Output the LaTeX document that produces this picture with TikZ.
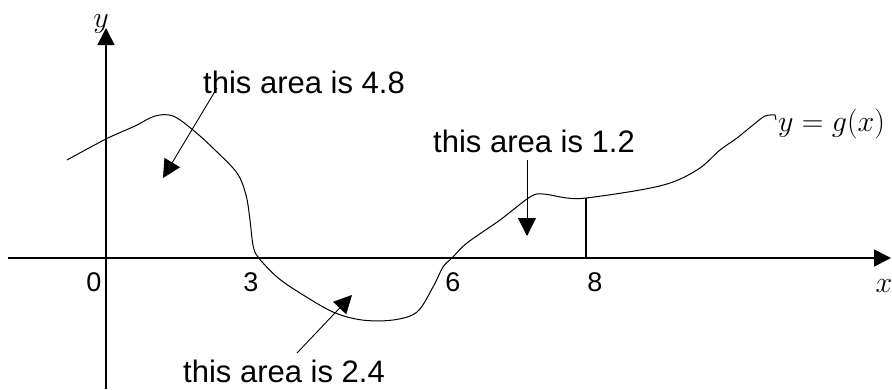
\documentclass[tikz,border=0pt]{standalone}
\usepackage{fix-cm}
\usepackage{fontspec}
\setmainfont{Liberation Sans}
\usetikzlibrary{arrows.meta}

\begin{document}
\begin{tikzpicture}[
    x=1pt, y=-1pt,
    axis/.style={line width=1.6pt, -{Triangle[length=17pt,width=17pt]}},
    pointer/.style={line width=0.9pt, -{Triangle[length=18pt,width=18pt]}},
    curve/.style={line width=1pt},
    arealabel/.style={inner sep=0pt, anchor=base west, font=\fontsize{31}{36}\selectfont},
    ticklabel/.style={inner sep=0pt, font=\fontsize{27}{32}\selectfont},
    mathlabel/.style={inner sep=0pt, font=\fontsize{30}{35}\selectfont}
]
\useasboundingbox (0,0) rectangle (892,389);

% Axes
\coordinate (xstart) at (8,258);
\coordinate (xend) at (891,258);
\coordinate (ystart) at (106,389);
\coordinate (yend) at (106,28);
\draw[axis] (xstart) -- (xend);
\draw[axis] (ystart) -- (yend);
\node[mathlabel, anchor=base] (ylab) at (101,27) {$y$};
\node[mathlabel] (xlab) at (884,286) {$x$};

% Tick labels
\node[ticklabel] (t0) at (94,282) {0};
\node[ticklabel] (t3) at (251,282) {3};
\node[ticklabel] (t6) at (453,282) {6};
\node[ticklabel] (t8) at (595,282) {8};

% The curve y = g(x)
\draw[curve] plot[smooth, tension=0.55] coordinates {
    (67,160) (106,139) (135,126) (155,116) (173,116) (193,130) (215,150)
    (237,173) (246,195) (250,220) (253,245) (258,257) (277,277) (300,293)
    (333,312) (362,320) (393,320) (417,312) (433,287) (443,267) (452,258)
    (467,243) (500,220) (530,197) (543,194) (567,198) (586,198) (640,190)
    (673,182) (700,168) (720,150) (737,138) (753,125) (765,116) (775,115)}
    -- (776,120);
\node[mathlabel, anchor=base west] (glab) at (778,131) {$y=g(x)$};

% Ordinate at x = 8
\coordinate (foot8) at (586,258);
\coordinate (top8) at (586,198);
\draw[line width=1.6pt] (foot8) -- (top8);

% Area labels and their arrows
\node[arealabel] (area48) at (203,93) {this area is 4.8};
\node[arealabel] (area12) at (433,152) {this area is 1.2};
\node[arealabel] (area24) at (183,382) {this area is 2.4};

\coordinate (from48) at (217,88);
\coordinate (tip48) at (163,178);
\coordinate (from12) at (527,160);
\coordinate (tip12) at (527,236);
\coordinate (from24) at (297,353);
\coordinate (tip24) at (352,295);
\draw[pointer] (from48) -- (tip48);
\draw[pointer] (from12) -- (tip12);
\draw[pointer] (from24) -- (tip24);

\end{tikzpicture}
\end{document}
